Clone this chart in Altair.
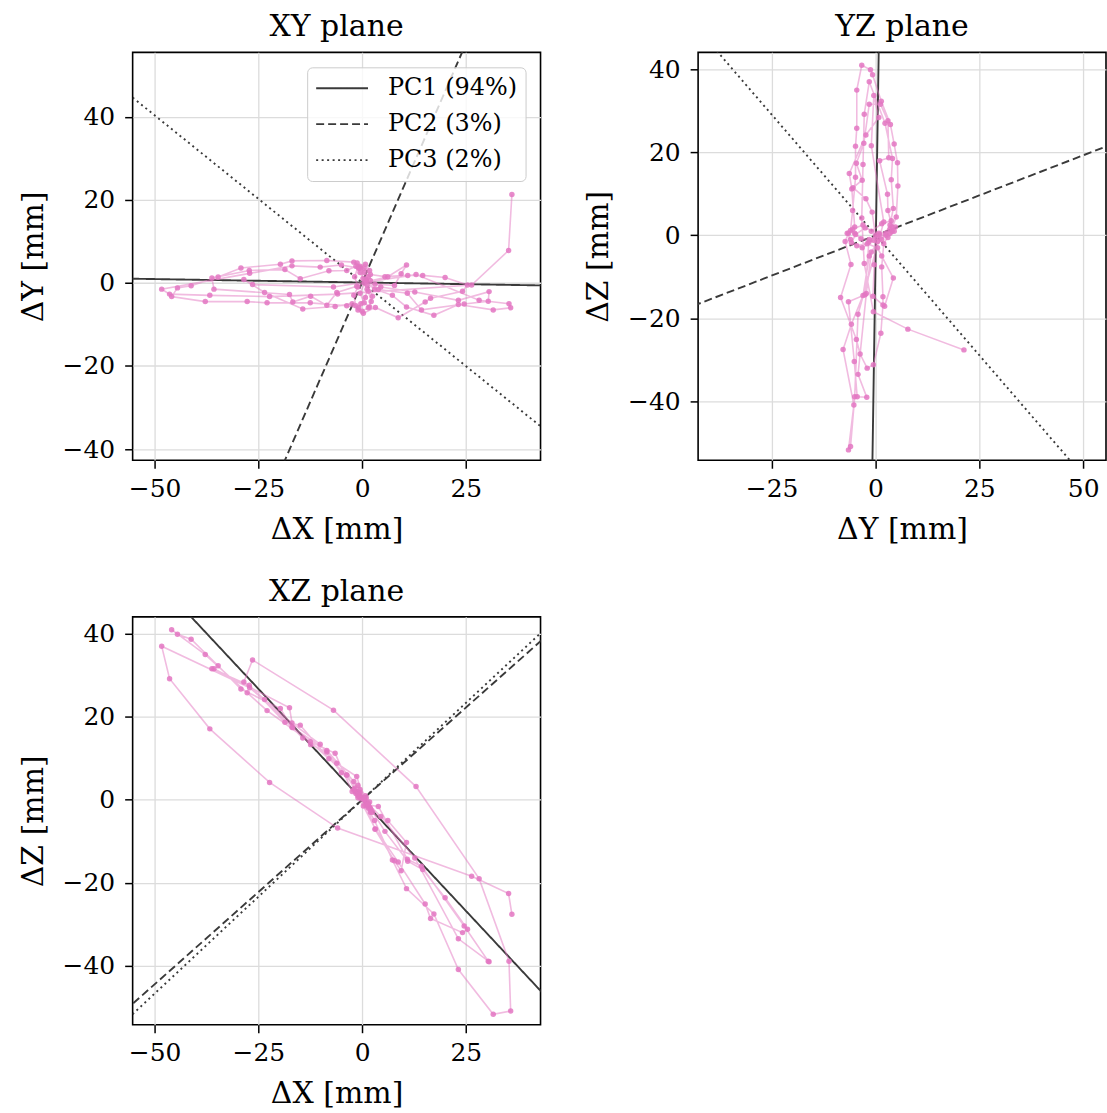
import altair as alt
import pandas as pd

# Trajectory (mm), in time order
X = [1.0, 0.5, -0.5, -1.2, -0.8, 0.2, 1.2, 0.8, -0.3, -0.8,
     -3.7, -12.5, -22.9, -27.7, -37.8, -45.9, -44.5, -41.2, -34.7, -29.2,
     -19.7, -16.9, -8.5, -2.0, 0.5, 2.0, 5.5, 11.0, 14.6, 20.0,
     25.4, 24.2, 16.5, 15.2, 8.7, 3.2, 0.3, -1.0, -2.4, -6.5,
     -14.3, -23.5, -28.5, -26.4, -6.9, 13.0, 28.2, 35.4, 35.8, 31.6,
     23.2, 17.3, 10.7, 7.3, 3.0, 1.0, -0.5, -1.5, -3.7, -8.0,
     -14.9, -18.6, -27.2, -36.2, -35.7, -17.5, -16.7, -12.4, -8.5, -6.1,
     -1.3, 0.5, 3.1, 7.8, 9.4, 10.7, 6.2, 2.0, 1.5, 2.2,
     1.5, 0.0, -1.5, -2.0, -1.0,
     -1.8, -1.0, 0.8, 1.8, 1.0, -0.5, 0.5, 1.8, 2.5, 1.2,
     3.9, 10.9, 14.3, 24.6, 30.4,
     30.6, 23.2, 12.7, 4.5, 1.5, -0.5, -5.0, -10.1, -16.9, -27.1,
     -48.3, -46.4, -36.7, -22.3, -5.9, 26.4, 35.3, 36.1]
Y = [0.5, 2.5, 4.0, 4.8, 3.5, 1.0, -1.5, -3.5, -5.0, -6.0,
     -5.5, -4.8, -4.8, -4.5, -4.5, -3.3, -1.2, -0.7, 1.4, 3.6,
     4.5, 5.3, 5.4, 5.0, 3.5, 2.0, 1.5, 1.8, 1.8, 1.3,
     -0.5, -2.0, -3.7, -4.6, -8.4, -5.9, -7.3, -6.5, -5.0, -5.7,
     -6.3, -2.3, 0.8, -0.4, -1.0, 2.0, -4.2, -5.0, -6.0, -6.5,
     -5.2, -7.8, -5.8, -3.0, -1.5, 0.5, 2.5, 4.0, 3.0, 2.9,
     1.0, 3.2, 3.0, 1.2, -1.5, -2.8, -4.6, -3.2, -5.4, -2.3,
     -0.8, 0.0, -0.3, -0.6, 2.2, 4.3, 1.5, 0.5, -2.0, -4.5,
     -6.0, -6.8, -5.5, -3.0, -1.0,
     1.5, 3.8, 4.5, 3.0, 0.8, -2.5, -4.8, -5.8, -3.2, -0.5,
     -1.6, -2.5, -6.5, -5.1, -4.4,
     -2.1, -4.2, -2.2, -1.0, 1.5, 3.5, 4.3, 3.8, 4.1, 2.3,
     -1.5, -2.7, -3.0, -3.3, -2.7, -0.5, 7.8, 21.3]
Z = [-0.5, 0.0, 1.0, 2.0, 1.5, 0.2, -1.0, -0.8, 0.5, 1.2,
     6.0, 14.0, 21.5, 25.8, 35.0, 41.0, 39.9, 38.7, 32.3, 26.7,
     22.0, 17.5, 11.9, 4.4, 0.5, -2.0, -7.6, -14.8, -16.8, -23.6,
     -31.2, -32.0, -28.6, -25.1, -15.0, -7.0, -1.5, 0.5, 2.0, 11.2,
     14.9, 24.2, 28.4, 33.7, 21.6, 3.2, -19.0, -38.9, -50.9, -51.7,
     -40.9, -27.5, -21.4, -14.5, -5.0, -1.5, 0.5, 2.0, 6.0, 9.9,
     18.0, 18.7, 27.6, 31.6, 31.6, 22.2, 17.4, 13.3, 11.5, 8.8,
     5.6, 0.0, -7.1, -14.7, -17.1, -10.3, -5.0, -3.0, -2.0, -2.5,
     -1.0, 0.5, 1.5, 2.5, 1.0,
     2.8, 3.5, 1.0, -0.5, 0.5, 1.8, 0.2, -1.8, -3.0, -1.2,
     -1.6, -14.3, -16.0, -30.4, -38.9,
     -39.0, -33.5, -14.0, -4.0, -1.0, 2.5, 6.5, 13.4, 18.5, 27.0,
     37.0, 29.2, 17.1, 4.2, -6.8, -18.4, -22.6, -27.6]

# Principal components (direction vectors) through the centre
PC_NAMES = ["PC1 (94%)", "PC2 (3%)", "PC3 (2%)"]
PC_DIRS = [[1.0, -0.0164, -1.07], [1.0, 2.30, 0.889], [1.0, -0.805, 0.934]]
PC_CENTER = [0.0, 0.1, 0.0]
PC_EXTENT = [-150.0, 150.0]

X_DOMAIN = [-55.3, 43.0]
Y_DOMAIN = [-42.7, 55.5]
Z_DOMAIN = [-54.2, 44.1]
X_TICKS = [-50, -25, 0, 25]
Y_TICKS_VERT = [-40, -20, 0, 20, 40]
Y_TICKS_HORIZ = [-25, 0, 25, 50]
Z_TICKS = [-40, -20, 0, 20, 40]

assert len(X) == len(Y) == len(Z)
traj = pd.DataFrame({"i": list(range(len(X))), "X": X, "Y": Y, "Z": Z})

rows = []
for name, d in zip(PC_NAMES, PC_DIRS):
    for t in PC_EXTENT:
        rows.append({"pc": name, "t": t,
                     "X": PC_CENTER[0] + t * d[0],
                     "Y": PC_CENTER[1] + t * d[1],
                     "Z": PC_CENTER[2] + t * d[2]})
pcs = pd.DataFrame(rows)

FONT = "DejaVu Serif"
PINK = "#e377c2"
PCCOL = "#3a3a3a"


def panel(xf, yf, xdom, ydom, xticks, yticks, xtitle, ytitle, title, show_legend):
    xenc = alt.X(f"{xf}:Q", scale=alt.Scale(domain=xdom, nice=False, zero=False),
                 axis=alt.Axis(values=xticks, title=xtitle))
    yenc = alt.Y(f"{yf}:Q", scale=alt.Scale(domain=ydom, nice=False, zero=False),
                 axis=alt.Axis(values=yticks, title=ytitle))
    if show_legend:
        leg = alt.Legend(title=None, orient="top-right", offset=15,
                         symbolType="stroke", symbolSize=2700,
                         symbolStrokeWidth=1.8, symbolStrokeColor=PCCOL,
                         labelFont=FONT, labelFontSize=24, labelColor="black",
                         padding=8, rowPadding=10, clipHeight=26,
                         labelOffset=19, labelLimit=400,
                         fillColor="rgba(255,255,255,0.8)", strokeColor="#cccccc",
                         cornerRadius=5)
    else:
        leg = None
    pc_layer = alt.Chart(pcs).mark_line(color=PCCOL, strokeWidth=1.9, clip=True).encode(
        x=xenc, y=yenc,
        strokeDash=alt.StrokeDash("pc:N",
                                  scale=alt.Scale(domain=PC_NAMES,
                                                  range=[[1, 0], [8, 4], [2, 3.5]]),
                                  legend=leg),
        order="t:Q")
    line_layer = alt.Chart(traj).mark_line(color=PINK, opacity=0.5, strokeWidth=1.6,
                                           clip=True).encode(
        x=xenc, y=yenc, order="i:Q")
    pt_layer = alt.Chart(traj).mark_circle(color=PINK, opacity=0.85, size=30,
                                           clip=True).encode(x=xenc, y=yenc)
    return alt.layer(pc_layer, line_layer, pt_layer).properties(
        width=409, height=409,
        title=alt.TitleParams(title, font=FONT, fontSize=30, fontWeight="normal",
                              color="black", offset=10))


xy = panel("X", "Y", X_DOMAIN, Y_DOMAIN, X_TICKS, Y_TICKS_VERT,
           "ΔX [mm]", "ΔY [mm]", "XY plane", True)
yz = panel("Y", "Z", Y_DOMAIN, Z_DOMAIN, Y_TICKS_HORIZ, Z_TICKS,
           "ΔY [mm]", "ΔZ [mm]", "YZ plane", False)
xz = panel("X", "Z", X_DOMAIN, Z_DOMAIN, X_TICKS, Z_TICKS,
           "ΔX [mm]", "ΔZ [mm]", "XZ plane", False)

top = alt.hconcat(xy, yz, spacing=41).resolve_scale(
    strokeDash="independent").resolve_legend(strokeDash="independent")

chart = alt.vconcat(top, xz, spacing=31).resolve_scale(
    strokeDash="independent").resolve_legend(strokeDash="independent").properties(
    padding={"left": 17, "top": 10, "right": 0, "bottom": 0},
    background="white",
).configure_view(
    stroke="black", strokeWidth=1.6
).configure_axis(
    grid=True, gridColor="#dcdcdc", gridWidth=1.3, domain=False,
    tickColor="black", tickSize=8, tickWidth=1.5,
    labelFont=FONT, labelFontSize=25, labelColor="black",
    titleFont=FONT, titleFontSize=30, titleFontWeight="normal", titleColor="black",
    labelFlush=False, labelOverlap=False,
).configure_axisX(
    labelPadding=8, titlePadding=13
).configure_axisY(
    labelPadding=10, titlePadding=14
)

chart.save("out.html", embed_options={"renderer": "svg", "actions": False})
